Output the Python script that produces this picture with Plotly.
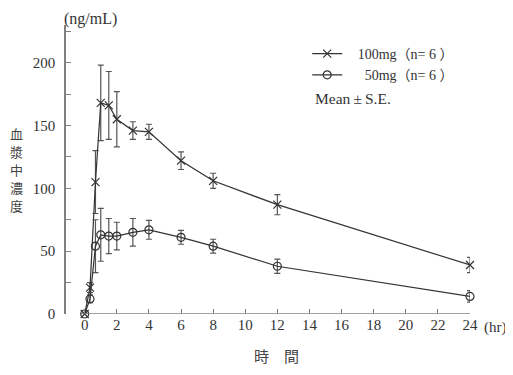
import plotly.graph_objects as go

# ---- data ----
time_hr = [0, 0.33, 0.67, 1, 1.5, 2, 3, 4, 6, 8, 12, 24]
conc_100 = [0, 21, 105, 168, 166, 155, 146, 145, 122, 106, 87, 39]
se_100 = [0, 4, 25, 30, 27, 22, 7, 6, 7, 6, 8, 6]
conc_50 = [0, 12, 54, 63, 62, 62, 65, 67, 61, 54, 38, 14]
se_50 = [0, 3, 21, 21, 14, 11, 11, 7.5, 5.5, 5.5, 5.7, 4.6]

x_ticks = list(range(0, 25, 2))
y_ticks = list(range(0, 226, 25))
y_ticktext = [str(v) if v % 50 == 0 else "" for v in y_ticks]

names = ["\u00a0\u00a0\u00a0100mg（n= 6 ）", "\u00a0\u00a0\u00a0\u00a0\u00a050mg（n= 6 ）"]
ylabel_chars = list("血漿中濃度")

FONT = "Liberation Serif, 'Noto Sans CJK JP', serif"
CJK = "'Noto Sans CJK JP'"
INK = "#333333"
AXIS = "#808080"

fig = go.Figure()
fig.add_trace(go.Scatter(
    x=time_hr, y=conc_100, name=names[0], mode="lines+markers",
    line=dict(color=INK, width=1.2),
    marker=dict(symbol="x-thin-open", size=8, line=dict(color=INK, width=1.2)),
    error_y=dict(type="data", array=se_100, visible=True, color="#555555", thickness=1.2, width=3),
    cliponaxis=False,
))
fig.add_trace(go.Scatter(
    x=time_hr, y=conc_50, name=names[1], mode="lines+markers",
    line=dict(color=INK, width=1.2),
    marker=dict(symbol="circle-open", size=8, line=dict(color=INK, width=1.2)),
    error_y=dict(type="data", array=se_50, visible=True, color="#555555", thickness=1.2, width=3),
    cliponaxis=False,
))

# x-axis baseline spans only the 0-24 h data range
fig.add_shape(type="line", xref="x", yref="y", x0=x_ticks[0], x1=x_ticks[-1], y0=0, y1=0,
              line=dict(color=AXIS, width=1.5))

annotations = [
    dict(text="(ng/mL)", xref="paper", yref="paper", x=0, y=1.02, xshift=-4,
         xanchor="left", yanchor="middle", showarrow=False,
         font=dict(size=16, family=FONT, color=INK)),
    dict(text="(hr)", xref="paper", yref="paper", x=1, y=-0.045, xshift=12,
         xanchor="left", yanchor="middle", showarrow=False,
         font=dict(size=15, family=FONT, color=INK)),
    dict(text="時　間", xref="paper", yref="paper", x=0.52, y=-0.145,
         xanchor="center", yanchor="middle", showarrow=False,
         font=dict(size=15, family=CJK, color="#444444")),
    dict(text="Mean\u2009±\u2009S.E.", xref="paper", yref="paper", x=0.611, y=0.745,
         xanchor="left", yanchor="middle", showarrow=False,
         font=dict(size=15.5, family=FONT, color=INK)),
]
# vertical y-axis title, one character per line, at the left edge of the figure
for i, ch in enumerate(ylabel_chars):
    annotations.append(dict(text=ch, xref="paper", yref="paper", x=-0.1436,
                            y=0.5, yshift=36 - 18 * i, xanchor="left", yanchor="middle",
                            showarrow=False, font=dict(size=13, family=CJK, color="#444444")))

# page body has an 8px margin, so the figure is sized to fit the window exactly
fig.update_layout(
    width=505, height=367,
    margin=dict(l=58, r=43, t=17, b=61, autoexpand=False),
    paper_bgcolor="white", plot_bgcolor="white",
    font=dict(family=FONT, size=14, color=INK),
    showlegend=True,
    legend=dict(x=0.597, y=0.955, xanchor="left", yanchor="top",
                bgcolor="rgba(0,0,0,0)", font=dict(size=14, family=FONT, color=INK),
                tracegroupgap=0, itemwidth=30),
    xaxis=dict(range=[-1.165, 24], showline=False, showgrid=False, zeroline=False,
               automargin=False,
               tickmode="array", tickvals=x_ticks, ticktext=[str(v) for v in x_ticks],
               ticks="inside", ticklen=5, tickcolor=AXIS, tickwidth=1.2,
               tickfont=dict(size=15, family=FONT, color=INK)),
    yaxis=dict(range=[0, 230], showline=True, linecolor=AXIS, linewidth=1.5,
               showgrid=False, zeroline=False, automargin=False,
               tickmode="array", tickvals=y_ticks, ticktext=y_ticktext,
               ticks="inside", ticklen=5, tickcolor=AXIS, tickwidth=1.2,
               ticklabelstandoff=6,
               tickfont=dict(size=15, family=FONT, color=INK)),
    annotations=annotations,
)

fig.write_html("out.html")
